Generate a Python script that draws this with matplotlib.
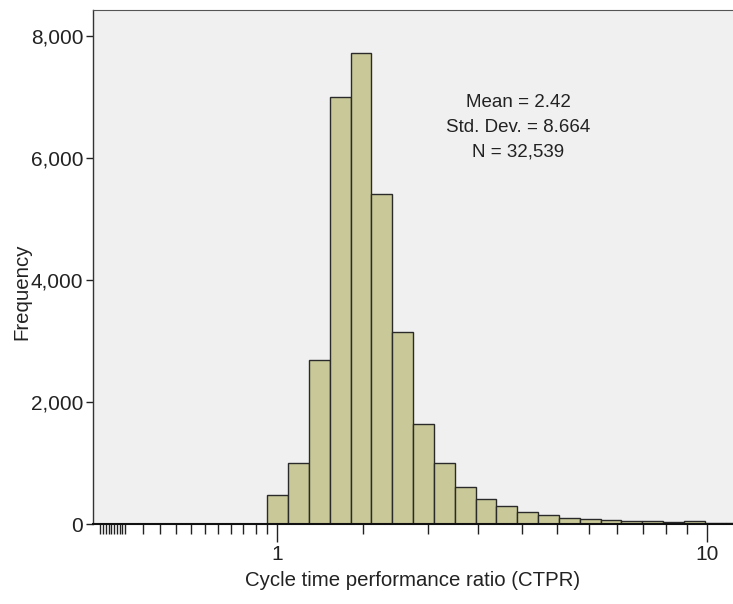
import numpy as np
import matplotlib
matplotlib.use("Agg")
import matplotlib.pyplot as plt

plt.rcParams["font.family"] = ["Liberation Sans", "DejaVu Sans"]

# histogram bins (CTPR, log-spaced) and counts
bin_edges = [0.949, 1.062, 1.187, 1.327, 1.483, 1.658, 1.854, 2.073, 2.318,
             2.591, 2.897, 3.239, 3.621, 4.048, 4.526, 5.060, 5.657, 6.325,
             7.071, 7.906, 8.839, 9.882, 11.05, 12.35]
counts = [480, 995, 2690, 7000, 7720, 5410, 3150, 1635, 1000, 612, 415, 290,
          200, 150, 95, 75, 65, 45, 50, 35, 45, 20, 20]

yticks = [0, 2000, 4000, 6000, 8000]
xmajor = [1, 10]
xminor = [0.388, 0.394, 0.400, 0.406, 0.412, 0.418, 0.425, 0.431, 0.437, 0.443,
          0.488, 0.534, 0.582, 0.631, 0.680, 0.729, 0.782, 0.834, 0.894, 0.948,
          1.585, 2.245, 2.93, 3.71, 4.48, 5.32, 6.18, 7.10, 8.03, 8.98]

stats = "Mean = 2.42\nStd. Dev. = 8.664\nN = 32,539"

BAR, EDGE, BG = "#c9c898", "#2a2a2a", "#f0f0f0"

fig = plt.figure(figsize=(7.33, 6.04), dpi=100)
ax = fig.add_axes([93 / 733, 80 / 604, 640 / 733, 514 / 604])
ax.set_facecolor(BG)

ax.bar(bin_edges[:-1], counts, width=np.diff(bin_edges), align="edge",
       color=BAR, edgecolor=EDGE, linewidth=1.0, zorder=2)

ax.set_xscale("log")
ax.set_xlim(0.3733, 11.495)
ax.set_ylim(0, 8426)

ax.set_xticks(xmajor)
ax.set_xticklabels([str(v) for v in xmajor])
ax.set_xticks(xminor, minor=True)
ax.xaxis.set_minor_formatter(plt.NullFormatter())
ax.set_yticks(yticks)
ax.set_yticklabels([f"{v:,}" for v in yticks])

ax.tick_params(axis="x", which="major", length=13, width=1.0, colors="#222222",
               labelsize=15, pad=2)
ax.tick_params(axis="x", which="minor", length=7, width=1.0, color="#222222")
ax.tick_params(axis="y", length=5, width=1.0, colors="#222222", labelsize=15, pad=2)

ax.spines["right"].set_visible(False)
ax.spines["top"].set_color("#555555")
ax.spines["top"].set_linewidth(0.8)
ax.spines["left"].set_color("#333333")
ax.spines["left"].set_linewidth(1.0)
ax.spines["bottom"].set_color("#111111")
ax.spines["bottom"].set_linewidth(1.5)

ax.set_xlabel("Cycle time performance ratio (CTPR)", fontsize=14.7,
              color="#222222", labelpad=5)
ax.set_ylabel("Frequency", fontsize=14.7, color="#222222")
ax.yaxis.set_label_coords(-0.097, 0.451)

ax.text(0.664, 0.772, stats, transform=ax.transAxes, ha="center", va="center",
        fontsize=13.5, color="#222222", linespacing=1.6)

fig.savefig("out.png", dpi=100)
